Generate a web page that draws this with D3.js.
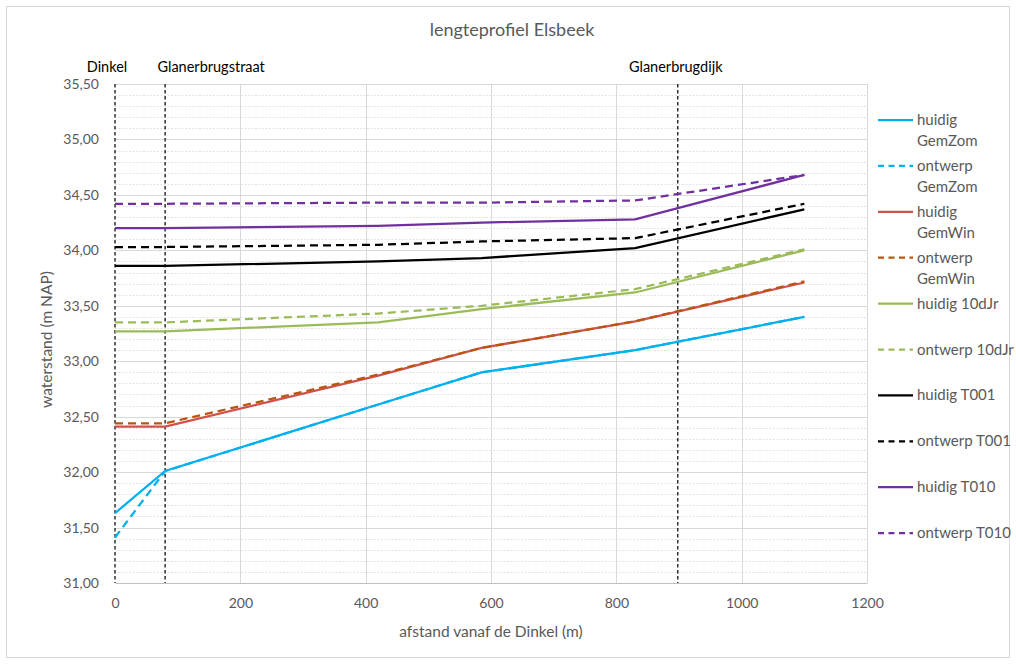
<!DOCTYPE html>
<html>
<head>
<meta charset="utf-8">
<script src="https://cdn.jsdelivr.net/npm/d3@7"></script>
<style>
  html, body { margin: 0; padding: 0; background: #fff; }
  svg { display: block; font-family: Lato, "Open Sans", sans-serif; }
</style>
</head>
<body>
<svg id="chart" width="1016" height="664"></svg>
<script>
// ---- data ----
const distances = [0, 80, 420, 585, 830, 1100];
const seriesNames = ["huidig GemZom", "ontwerp GemZom", "huidig GemWin", "ontwerp GemWin",
  "huidig 10dJr", "ontwerp 10dJr", "huidig T001", "ontwerp T001", "huidig T010", "ontwerp T010"];
const huidigGemZom  = [31.63, 32.01, 32.61, 32.90, 33.10, 33.40];
const ontwerpGemZom = [31.41, 32.01, 32.61, 32.90, 33.10, 33.40];
const huidigGemWin  = [32.41, 32.41, 32.87, 33.12, 33.36, 33.71];
const ontwerpGemWin = [32.44, 32.44, 32.88, 33.12, 33.36, 33.72];
const huidig10dJr   = [33.27, 33.27, 33.35, 33.47, 33.62, 34.00];
const ontwerp10dJr  = [33.35, 33.35, 33.43, 33.50, 33.65, 34.01];
const huidigT001    = [33.86, 33.86, 33.90, 33.93, 34.02, 34.37];
const ontwerpT001   = [34.03, 34.03, 34.05, 34.08, 34.11, 34.42];
const huidigT010    = [34.20, 34.20, 34.22, 34.25, 34.28, 34.68];
const ontwerpT010   = [34.42, 34.42, 34.43, 34.43, 34.45, 34.68];
const seriesValues = [huidigGemZom, ontwerpGemZom, huidigGemWin, ontwerpGemWin,
  huidig10dJr, ontwerp10dJr, huidigT001, ontwerpT001, huidigT010, ontwerpT010];
const seriesColors = ["#00B0F0", "#00B0F0", "#D0504D", "#B8560F", "#9BBB59", "#9BBB59",
  "#000000", "#000000", "#7030A0", "#7030A0"];
const seriesDashed = [false, true, false, true, false, true, false, true, false, true];

const markerNames = ["Dinkel", "Glanerbrugstraat", "Glanerbrugdijk"];
const markerDist = [0, 80, 898];

const xTicks = [0, 200, 400, 600, 800, 1000, 1200];
const yTicks = [31.0, 31.5, 32.0, 32.5, 33.0, 33.5, 34.0, 34.5, 35.0, 35.5];
const yMinorTicks = d3.range(31.1, 35.5, 0.1).filter(v => Math.abs(v * 2 - Math.round(v * 2)) > 0.01);

const titleText = "lengteprofiel  Elsbeek";
const xTitle = "afstand vanaf de Dinkel (m)";
const yTitle = "waterstand (m NAP)";

// ---- layout ----
const svg = d3.select("#chart");
const plot = { left: 115, right: 867, top: 84, bottom: 583 };
const x = d3.scaleLinear().domain([0, 1200]).range([plot.left, plot.right]);
const y = d3.scaleLinear().domain([31, 35.5]).range([plot.bottom, plot.top]);
const textGray = "#595959";

// outer border
svg.append("rect").attr("x", 6.5).attr("y", 6.5).attr("width", 1003).attr("height", 651)
  .attr("fill", "#fff").attr("stroke", "#d9d9d9").attr("stroke-width", 1);

// title
svg.append("text").attr("x", 512).attr("y", 36).attr("text-anchor", "middle")
  .attr("fill", textGray).style("font-size", "18px").text(titleText);

// minor horizontal grid
svg.append("g").selectAll("line").data(yMinorTicks).join("line")
  .attr("x1", plot.left).attr("x2", plot.right)
  .attr("y1", d => Math.round(y(d)) + 0.5).attr("y2", d => Math.round(y(d)) + 0.5)
  .attr("stroke", "#e3e3e3").attr("stroke-dasharray", "2,1.5").attr("stroke-width", 1);

// major horizontal grid
svg.append("g").selectAll("line").data(yTicks.slice(1)).join("line")
  .attr("x1", plot.left).attr("x2", plot.right)
  .attr("y1", d => Math.round(y(d)) + 0.5).attr("y2", d => Math.round(y(d)) + 0.5)
  .attr("stroke", "#d9d9d9").attr("stroke-width", 1);

// vertical grid
svg.append("g").selectAll("line").data(xTicks.slice(1)).join("line")
  .attr("x1", d => Math.round(x(d)) + 0.5).attr("x2", d => Math.round(x(d)) + 0.5)
  .attr("y1", plot.top).attr("y2", plot.bottom)
  .attr("stroke", "#d9d9d9").attr("stroke-width", 1);

// x axis
const xAxis = d3.axisBottom(x).tickValues(xTicks).tickSize(0).tickPadding(15).tickFormat(d3.format("d"));
const gx = svg.append("g").attr("transform", `translate(0,${plot.bottom})`).call(xAxis);
gx.select(".domain").attr("stroke", "#bfbfbf");
gx.selectAll("text").attr("fill", textGray).style("font-size", "14px").style("font-family", "Lato, sans-serif");

// y axis
const yAxis = d3.axisLeft(y).tickValues(yTicks).tickSize(0).tickPadding(16)
  .tickFormat(d => d3.format(".2f")(d).replace(".", ","));
const gy = svg.append("g").attr("transform", `translate(${plot.left},0)`).call(yAxis);
gy.select(".domain").remove();
gy.selectAll("text").attr("fill", textGray).style("font-size", "14px").style("font-family", "Lato, sans-serif");

// axis titles
svg.append("text").attr("x", x(600)).attr("y", 637).attr("text-anchor", "middle")
  .attr("fill", textGray).style("font-size", "15.5px").text(xTitle);
svg.append("text").attr("transform", `translate(52,${(plot.top + plot.bottom) / 2 + 6}) rotate(-90)`)
  .attr("text-anchor", "middle").attr("fill", textGray).style("font-size", "15.5px").text(yTitle);

// marker lines
svg.append("g").selectAll("line").data(markerDist).join("line")
  .attr("x1", d => x(d)).attr("x2", d => x(d))
  .attr("y1", plot.top).attr("y2", plot.bottom)
  .attr("stroke", "#303030").attr("stroke-width", 1.5).attr("stroke-dasharray", "3.5,2.5");
svg.append("g").selectAll("text").data(markerNames).join("text")
  .attr("x", (d, i) => x(markerDist[i]) + (i === 0 ? -8 : (i === 1 ? 46 : -2)))
  .attr("y", 72).attr("text-anchor", "middle").attr("fill", "#000")
  .style("font-size", "14.5px").text(d => d);

// series lines
const line = d3.line().x((d, i) => x(distances[i])).y(d => y(d));
svg.append("g").selectAll("path").data(seriesValues).join("path")
  .attr("d", d => line(d)).attr("fill", "none")
  .attr("stroke", (d, i) => seriesColors[i])
  .attr("stroke-width", 2.25)
  .attr("stroke-dasharray", (d, i) => seriesDashed[i] ? "8,5" : null);

// legend
const legendY0 = 120, legendStep = 45.9;
const lg = svg.append("g");
seriesNames.forEach((name, i) => {
  const yy = legendY0 + i * legendStep;
  lg.append("line").attr("x1", 878).attr("x2", 913).attr("y1", yy).attr("y2", yy)
    .attr("stroke", seriesColors[i]).attr("stroke-width", 2.25)
    .attr("stroke-dasharray", seriesDashed[i] ? "6,4.5" : null);
  const twoLine = i < 4;
  const parts = twoLine ? name.split(" ") : [name];
  const t = lg.append("text").attr("x", 917).attr("y", yy + 5)
    .attr("fill", textGray).style("font-size", "15px");
  parts.forEach((p, j) => {
    t.append("tspan").attr("x", 917).attr("dy", j === 0 ? 0 : 21).text(p);
  });
});
</script>
</body>
</html>
